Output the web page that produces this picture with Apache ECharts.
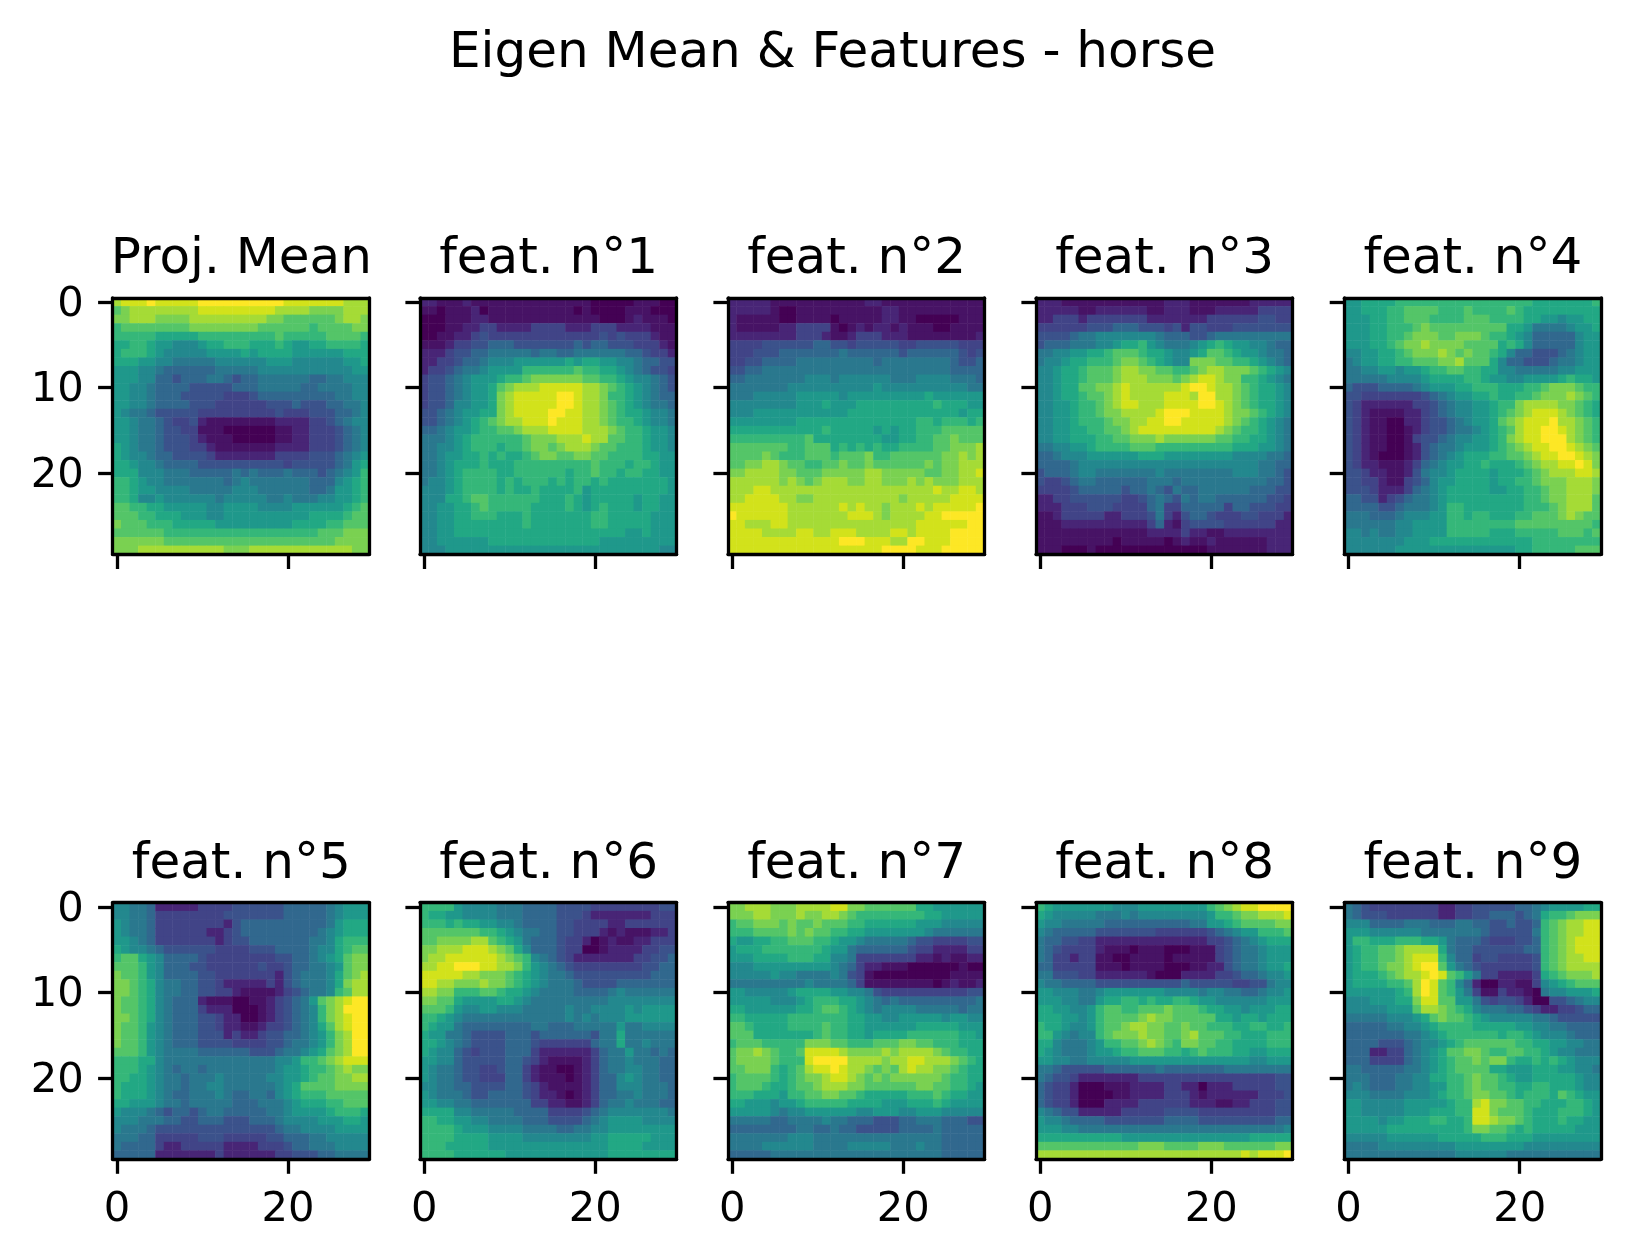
<!DOCTYPE html>
<html><head><meta charset="utf-8">
<style>html,body{margin:0;padding:0;background:#fff}#c{width:1630px;height:1258px}</style>
<script src="https://cdn.jsdelivr.net/npm/echarts@6/dist/echarts.min.js"></script>
</head><body><div id="c"></div>
<script>
// Values, as one hex level (0-f) per cell; spaces only group columns.
const figureTitle = "Eigen Mean & Features - horse";
const panelTitles = ["Proj. Mean","feat. n°1","feat. n°2","feat. n°3","feat. n°4","feat. n°5","feat. n°6","feat. n°7","feat. n°8","feat. n°9"];
const xTickEvery = 20;
const yTickEvery = 10;
const viridis = ["#440154","#471365","#482576","#414487","#3b528b","#31688e","#2a788e","#23888e","#1f988b","#22a884","#35b779","#54c568","#7ad151","#a5db36","#d2e21b","#fde725"];

const projMean = [
"deeef eeeee fffff fffff eeeee eeddd","bcddd ddddd eeeee eeeed dddcc ccddd","ccddd ccccd ddddd dddcc bbbbb bcddc","abbbb bbbbc ccccc ccbbb bbbab bbbcc",
"aaaaa 99999 aaaaa aaaab aaaaa bbbba","99aa9 88777 899aa a999a 98899 aaaa9","9aaa9 87777 78888 98999 98888 88999","99988 77666 66777 77788 87777 77889",
"88877 65555 55666 66777 77777 77788","88877 55455 56654 55666 66655 66777","88776 55554 44445 55666 66556 66677","88776 55544 44433 34555 55555 56677",
"88776 55554 44333 33344 45444 55667","87665 44444 33333 33334 33344 45567","88766 54334 21111 11112 22233 45677","88766 54433 11100 00001 12233 34567",
"88766 54443 21110 00001 12233 34567","98766 54443 32111 11112 22233 34567","98776 55444 43222 22223 33344 45678","99877 65555 44444 44444 34444 45689",
"99977 76665 55556 56555 65554 5678a","aa987 76666 66656 76666 66655 5789a","aa988 77776 66667 77666 66655 6889a","aa977 87777 77677 77766 76667 7889a",
"bbaa9 98888 87788 88777 78888 889ab","bbbaa 99988 87788 88888 88899 99abb","cbbba aa999 99888 88888 89999 aabbb","bbbbb baaaa aaaaa aaaaa aaaab bbccc",
"ccccc cbbbb bbbbb bbbbb bbbbb bcccc","cccdd ddddd dddcc cdddd ddddd dddcc"];

const feat1 = [
"22111 21111 11111 11111 00000 11100","11011 12011 11111 11101 00001 11000","00011 12211 11111 11111 10001 21110","00011 22332 22233 33222 33322 22111",
"00112 23433 33333 33333 34343 33211","11123 34455 54444 44454 55444 33321","22234 45566 66656 65566 66665 54332","22334 55677 78888 88989 98877 65544",
"23345 66788 88aaa aaaba a9987 65443","34456 78889 aabcc ccccb baa98 77654","34456 7889b cddde eeeed dcba9 87654","34456 7889c deeee effed dcaa9 87655",
"34457 7889c deeee effed dcba9 87665","44567 8899c deeee ffeed dcba9 98776","44567 89abc ddeee feeed dcbaa 98776","55678 89aab bcddd eeeed ddcba a9887",
"66678 9aaaa aabcc cddde ddbba a9887","66778 9aaa9 aabcc bcddd cbbaa a9887","66788 99a9a 99abc cbbcc bbaaa a9988","66789 99a99 9aaaa aaaaa baaa9 aa988",
"66789 aaaa9 9aaaa aa9aa baa9a a9988","67789 aaaa9 a9aaa 9a9aa 9a999 99998","77789 aaaa9 a99a9 999a8 99999 99998","77799 abbaa aaaa9 99a98 99999 89988",
"77889 9abaa aaa99 99a98 9a999 89988","77889 9aaa9 99a99 99999 aa999 99888","77889 99999 99a99 99999 aa999 99888","77889 99999 99999 99999 99998 89888",
"77888 88899 99999 99999 98888 88888","77788 88888 88888 88888 88888 88877"];

const feat2 = [
"22222 11111 11111 12211 11111 11111","22222 10011 11111 11122 11111 11111","21111 10011 11011 11122 11000 00111","21111 12233 33101 21221 21110 01111",
"22222 22233 32112 33322 21111 11112","33334 44444 55443 44444 33444 44333","33344 45555 55565 55555 45555 55434","33445 55566 66666 66566 66666 65445",
"44556 66666 66666 66666 66666 65555","55666 66667 77677 77776 66777 76665","66666 66777 77777 77877 77777 77766","66677 77788 88878 88888 88898 88888",
"77777 77788 89888 99999 9999a 99988","77788 88888 88889 99999 99999 99899","88888 88899 99999 99999 99aa9 aaa9a","99999 99999 9a999 99898 99aaa bbbbb",
"aaaaa aaaab 99999 99988 99aab bcbbb","bbbbb bbaab bb9a9 a9a99 aaaab bcccd","bbbbc baaab bbabb bcaab bbbbb ccdcd","bbccd dcbba abbcb bcbbb bbbcb ccddd",
"ccddd dccbb bcccc cddcc cccbb ccdde","ddddd dcdcb cdddc cddcc cdcdc ccddd","dddee ddddd ddddd ddddd dddde ddeed","ddeee eddcc ddddd ddddd cdddd deeee",
"eeeee eeddd ddded eddcd ddede eeeef","feeee eeddd dddde eedcd dddee fffff","eeddd eeddd ddddd ddddd ddeee eeeff","eeeed dddee ddeee dddde edeee effff",
"eeeee eeeee eeeff feeed dffee effff","eeeee eeeee eeeee eeeff ffeee fffff"];

const feat3 = [
"22211 11111 11111 22211 11111 22222","22222 11222 22211 22211 12222 23333","22333 23333 33322 22222 33333 34433","33333 34445 55444 34244 33344 44444",
"44445 66777 77776 55544 56666 66666","45556 66778 99a87 66678 9a988 77655","66778 899ab bba99 87789 bba98 87665","67789 9aaab ccba9 877cc cbbaa 98765",
"77899 abbbc ddccb baabc ddccc ba987","77899 abbbc dddcc cbcde edcca a9876","77899 bbccd edddd ddeff eddcb a9987","77899 abbcd edddd eeedf fddcb a9987",
"77889 aabcd eeddd eeeef fedcb a9987","77889 aabcc dddde fffee eedcc ba987","77889 aaabc cddee ffeee eedcb a9876","77889 9aabb cdeee eeeee edcba a9876",
"77889 99aab bcccd ccccc cbbaa 99876","66778 89aaa abbba aaaaa aaa99 98876","55677 78888 88999 88888 88877 77665","55556 77777 77777 77777 77777 76655",
"45556 77666 66667 66666 66677 76654","43345 66555 55566 65666 66666 66554","33334 55555 45565 46556 66666 55544","22334 44444 33456 54656 65555 55443",
"22233 34443 33356 33555 55355 44433","11233 33322 33346 32455 43334 43332","11122 22222 22235 21344 44333 33322","11111 11111 11122 22322 11222 22222",
"11111 11110 11111 01211 21111 11222","11100 01000 00000 00000 11111 11222"];

const feat4 = [
"88999 9aaaa aaaaa aaaaa aa999 9999a","88999 aabbb baaab aaaab a9999 99999","88899 aabbb aaaab bbaaa a9988 78899","88899 aaabc bbbbb bbbb9 98666 67889",
"88899 aabcc cbbcc cbaa9 87555 55788","88899 abccd ccccb bbb9a 97555 55788","77889 9abcc cdcbc bba97 55444 56788","67889 9aabb bccdb bb975 54445 66788",
"66778 87889 aabba a9977 66666 77888","66666 77778 9999a a9887 78888 9a998","54445 55567 88899 aaa99 9aabc ccbaa","44333 33334 56788 99a99 aabcc cdcba",
"43222 22233 45677 889aa cdddd ccba9","43211 11223 45677 889ab cdeee dcba9","43211 00223 44567 889bc deeef ddcba","43211 00123 44566 789ab deeff edcba",
"43211 00134 45677 889ac deeff fdcba","43211 00124 56678 889ab cdeef fedcb","43210 00124 56789 99aab bcdee ffedc","43221 11235 67889 9a999 abcdd eefec",
"44322 11246 77899 99899 9abcd ddeed","44332 11345 78899 99899 aabcc cdddc","44432 22356 78999 99889 9aabc cdddc","55442 34566 78999 99999 9aabc cdddb",
"55554 45666 78aa9 99999 9aaab cdddb","66655 56777 88aa9 aa999 aabbb cdcbb","66666 67788 88aaa aaaaa bbbbb bbbba","77676 67788 88aaa aa999 aaaaa bbbab",
"77777 77888 99999 99999 99aaa aaaaa","77777 78888 88888 88888 99aaa aabbb"];

const feat5 = [
"77665 22222 33334 44444 55555 67888","77665 33333 33344 44444 55555 67888","87665 33333 33324 55555 55555 68999","87665 33333 32234 55555 55556 78999",
"88765 33333 33234 45555 55566 79aaa","98776 54444 44333 34445 55567 79abb","abb98 75555 43333 33334 45567 89bcc","bbba8 75554 43333 33433 45566 78bcc",
"cbba8 75555 44333 33332 45666 79bcd","ccba9 76655 44322 22232 45666 79cdd","ccba9 76655 44332 11112 34566 7abdd","cbba9 76555 21110 01123 4568b cdeff",
"cbba9 76555 32220 00123 4567a cdfff","ccba9 76555 44322 00123 4567a cdeff","cbba8 76555 44322 11233 45679 bdeff","cbba8 76555 44423 22344 55678 acdff",
"cbba8 76555 44443 33344 56678 acdff","bbba8 76666 55555 54445 66789 bcdff","aaa99 76666 66666 66667 78aab cdeee","aaa98 76566 56666 66667 889aa bcdcc",
"aa998 76656 66766 66677 889ab bccdd","a9998 76656 67766 66667 89bbb bcccc","a9998 76556 66765 56657 89aaa bbbbb","99888 76656 66665 55666 78999 aabbb",
"87776 54554 56655 55566 78888 9aaa9","77766 65544 55544 45556 77778 88998","76665 44444 44444 44445 66777 78888","66655 33333 44433 33344 55566 77777",
"65555 32233 33322 22333 45566 67777","55555 22222 22322 22223 34445 56666"];

const feat6 = [
"aaaa8 77776 66555 54444 33333 33344","a9988 77776 66555 54443 22222 22333","aaa9a 99887 76555 54433 33223 33333","bbbbb bbaa9 87665 54433 32121 11223",
"bbccc cddba 98655 54332 01211 22333","ccddd eeedc b9755 54330 01222 23344","cddee eeeed cba76 54322 22222 33445","ddeef ffeed dca87 65433 33333 34455",
"eeeee ddccc ba987 66544 44444 44555","eeddc ccdcc ba987 66654 44455 55555","ddcca aabba 99876 66655 55676 66666","ccbb9 88889 98766 66666 66777 77777",
"bbba8 77887 77666 66766 77778 78888","aa987 66666 66666 66767 67778 88888","a9886 55555 55566 55566 66686 67777","98866 54444 55545 55555 46696 66666",
"99876 54444 55543 33333 56696 67666","98775 43444 55532 22222 35668 66565","88775 44444 55432 11112 35667 66655","87665 44334 55321 10012 35667 76655",
"87665 44333 55321 11012 35578 76655","77665 54444 55432 11112 35577 76665","87666 54455 55432 21012 35566 76665","88776 65555 55533 22112 35667 66655",
"99997 76666 65555 33334 56777 77776","aa998 87766 66555 44445 67888 87777","aaaa9 88877 77666 65566 77888 88888","aaaa9 99988 88777 77777 88999 99888",
"aaa99 99988 88888 88888 88999 98888","aaaa9 99999 88888 88888 88999 99999"];

const feat7 = [
"ccddd cccdd ddeec cbbbb bb998 88888","cccdd cccdc cddcb aaaaa aaa99 88888","abbcc cbcbb cbbba a9999 99888 77777","aaabb bbcbc bbaa9 98888 88876 66666",
"98899 aabbb aa988 76666 65443 33344","8999a aaaaa a9886 55555 54332 22233","88899 99aaa 99776 33333 33221 21122","77788 88888 88765 32211 10000 00100",
"77777 87766 66764 31000 00000 01111","66666 66667 66665 31111 11110 12112","88777 77899 99887 76433 33333 33344","88888 77789 aaa99 87656 55555 55556",
"99888 88899 abba9 87677 77666 66566","aa999 99aaa aaaa9 98877 88888 78877","bba99 99aaa abaa9 98888 88999 99888","bbb99 99999 abaa9 98999 9aaaa aa998",
"abbba aaaac ccbba aabbb ccbba aa999","bccdc baabe eeedc cccdc ddddc baa99","bcccc baaae ffffd dddcd deedd dcba9","bbccc a9abd eefed dcbcb deddc cba99",
"abbbb a9abc cdeed cbcbc ccccc baa99","abbba 99abb cdddc cbbbb bbccb baa98","aaa99 98aab bccbb a9999 9aaab a9988","99888 7889a aaaa9 99988 8999a 98888",
"88888 76778 88888 77888 77888 77777","66666 55666 67665 55444 55666 55544","55555 55566 55655 44444 55556 55555","66666 66777 66666 66666 66666 55555",
"66667 77777 66667 77776 66766 55555","55555 66666 66666 66666 66666 55555"];

const feat8 = [
"a9888 88887 77888 88888 abcde effff","98777 77666 76777 77777 8aabc cddde","87766 66655 55555 55566 889ab bbbcc","76555 55444 44443 33333 45678 8aaab",
"65544 33222 22222 22222 33456 78999","65433 33211 10111 00011 13456 67888","65332 33110 01111 01111 13456 67888","55333 33111 01111 00011 22456 67889",
"66444 33222 22210 00222 23345 56778","76655 55444 44444 44544 44433 44677","88777 66788 88888 77776 77665 56778","88877 66899 aa9a9 9aa98 87777 77888",
"99887 78abb aabbb cbbba 99887 88899","99988 78abb bbcdc cbbbb b9989 98999","a9987 78abb cddcc bbcbb aaa99 aa99a","aa876 77abc ccdcc bbcdb bbaa9 99aaa",
"99766 678aa bbcdc baccb baa99 99aaa","98766 67889 aabbb aa9ab aaa99 88999","88776 67777 78888 88888 88888 77888","66544 44455 55556 55555 55666 66666",
"65443 22222 22333 33333 33333 33344","54332 00011 12222 33220 22233 33344","54332 00001 12222 33321 22222 23334","54332 00022 22333 33322 21122 33344",
"76544 22222 33333 44443 33333 33344","87765 55544 44444 55554 44444 44455","88877 66666 66666 66666 66666 66667","99999 99999 88888 88888 88888 99999",
"bbbbb bbbbb bbccc bbbbc ccbbb bbbcc","ddddd ddddd ddddd ddddd dddde deeef"];

const feat9 = [
"65433 33333 32233 44444 55678 88899","65444 33333 32233 44555 4569a abccc","77755 55666 55566 55445 445ab cddee","88877 77776 66666 65444 446ab cddee",
"8aa99 9aaa9 98655 54333 445ab cdeee","89aab bcddd d9655 44444 455ab cdeee","89aab bcdee ea755 34433 334ab cddee","89aab ccdef fb865 43333 334ab cdddd",
"8999a bcdde feba8 63322 2239a bcccd","89999 aabdf eba75 20022 11378 9abbb","88888 89adf eba86 31132 21067 78889","77788 899ce ebb88 64344 32004 45677",
"77777 888bd dcba9 76665 54322 33455","66666 77789 bcbba 98777 77665 44444","55555 66778 9aaaa 99999 88776 65555","55555 55667 89aaa aaa9a a9877 76555",
"55554 44567 789ab bbbbb aa998 87766","55522 33567 89bbc cbaab baa98 77666","55533 33567 89abb cbcca 99a9a 98777","66555 55667 89abb bb998 88999 88776",
"66655 56677 99aab cbba9 88999 99877","67655 56677 88aab cbbaa 99aa9 99877","77766 66777 89aab ccbba 9aaa9 ba988","88777 77888 889aa deccb baa99 9aa98",
"88777 77888 999aa eecbb ba999 aaa98","88887 88999 aa99a eedcc ba999 a9988","88888 99999 9999a ccbba 9a999 99888","77777 88888 89999 9aaa9 99888 88888",
"66667 77777 77788 88888 87777 77777","66666 66666 66677 77776 66666 66666"];

const panels = [projMean,feat1,feat2,feat3,feat4,feat5,feat6,feat7,feat8,feat9];

// layout
const lefts = [112.7,420,728,1036,1344.3];
const tops = [297.8,902.6];
const side = 256.6;
const lw = 3.3, tickLen = 14.6, font = 'DejaVu Sans', tickFont = 41.67, titleFont = 50;

const cats = Array.from({length:30},(_,i)=>String(i));
const option = {animation:false,backgroundColor:'#fff',title:[],grid:[],xAxis:[],yAxis:[],series:[],
  visualMap:{show:false,min:0,max:15,inRange:{color:viridis}}};
option.title.push({text:figureTitle,left:832.5,top:29,textAlign:'center',padding:0,
  textStyle:{fontFamily:font,fontSize:titleFont,fontWeight:'normal',color:'#000'}});

panels.forEach((rows,p)=>{
  const col=p%5,row=Math.floor(p/5);
  const L=lefts[col],T=tops[row];
  const cells=[];
  rows.forEach((r,y)=>{
    const s=r.replace(/ /g,'');
    if(s.length!==30||rows.length!==30) throw new Error('bad row p'+p+' y'+y+' len '+s.length);
    [...s].forEach((c,x)=>cells.push([x,y,parseInt(c,16)]));
  });
  option.title.push({text:panelTitles[p],left:L+side/2+0.3,top:T-63,textAlign:'center',padding:0,
    textStyle:{fontFamily:font,fontSize:titleFont,fontWeight:'normal',color:'#000'}});
  option.grid.push({left:L,top:T,width:side,height:side,outerBoundsMode:'none',containLabel:false});
  const line={show:true,onZero:false,lineStyle:{color:'#000',width:lw}};
  const tickX={show:true,alignWithLabel:true,interval:xTickEvery-1,length:tickLen,lineStyle:{color:'#000',width:lw}};
  const tickY={show:true,alignWithLabel:true,interval:yTickEvery-1,length:tickLen,lineStyle:{color:'#000',width:lw}};
  const base={type:'category',data:cats,gridIndex:p,boundaryGap:true,z:10,splitLine:{show:false},splitArea:{show:false},silent:true};
  const i=option.xAxis.length;
  option.xAxis.push(Object.assign({},base,{position:'bottom',axisLine:line,axisTick:tickX,
    axisLabel:{show:row===1,interval:xTickEvery-1,margin:30,fontFamily:font,fontSize:tickFont,color:'#000'}}));
  option.xAxis.push(Object.assign({},base,{position:'top',axisLine:line,axisTick:{show:false},axisLabel:{show:false}}));
  option.yAxis.push(Object.assign({},base,{position:'left',inverse:true,axisLine:line,axisTick:tickY,
    axisLabel:{show:col===0,interval:yTickEvery-1,margin:29,verticalAlign:'top',lineHeight:6,fontFamily:font,fontSize:tickFont,color:'#000'}}));
  option.yAxis.push(Object.assign({},base,{position:'right',inverse:true,axisLine:line,axisTick:{show:false},axisLabel:{show:false}}));
  option.series.push({type:'heatmap',xAxisIndex:i,yAxisIndex:i,data:cells,silent:true,progressive:0,
    emphasis:{disabled:true},itemStyle:{borderWidth:0}});
});
const chart=echarts.init(document.getElementById('c'),null,{renderer:'canvas',width:1630,height:1258});
chart.setOption(option);
</script></body></html>
